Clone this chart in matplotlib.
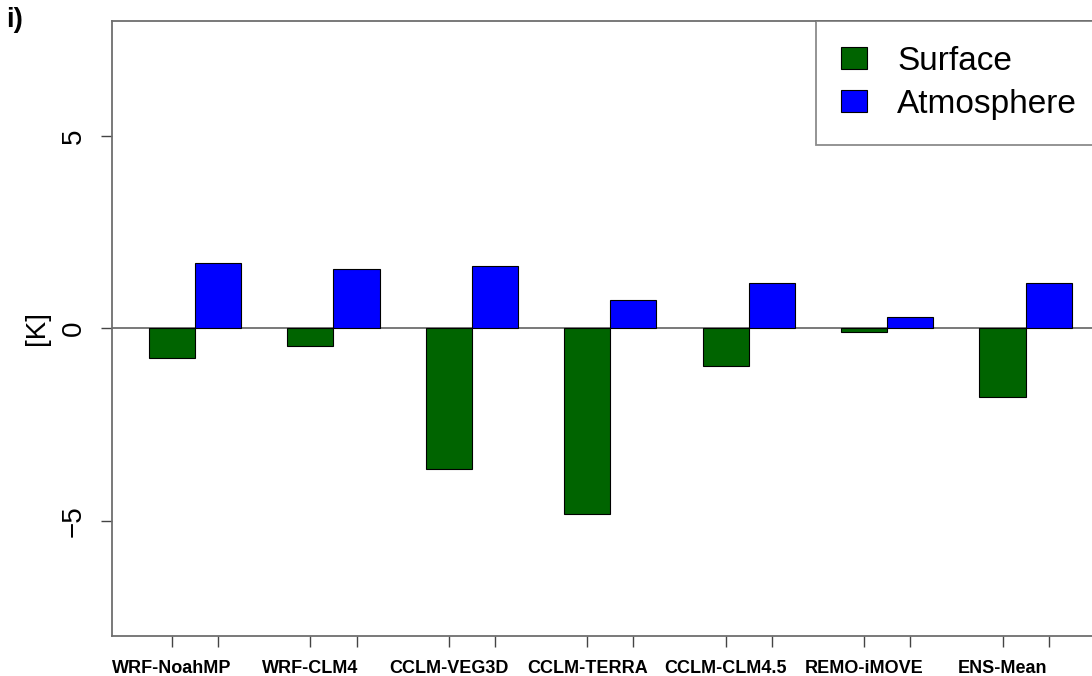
import numpy as np
import matplotlib
matplotlib.use("Agg")
import matplotlib.pyplot as plt
from matplotlib.patches import Patch

plt.rcParams["font.family"] = ["Liberation Sans", "DejaVu Sans"]

models = ["WRF-NoahMP", "WRF-CLM4", "CCLM-VEG3D", "CCLM-TERRA",
          "CCLM-CLM4.5", "REMO-iMOVE", "ENS-Mean"]
surface = [-0.78, -0.47, -3.67, -4.83, -0.98, -0.10, -1.79]
atmosphere = [1.70, 1.54, 1.61, 0.75, 1.17, 0.30, 1.19]

GREEN = "#006400"
BLUE = "#0000ff"
FRAME = "#6e6e6e"


def main():
    W, H = 1092, 676
    fig = plt.figure(figsize=(W / 100, H / 100), dpi=100)
    # axes box runs past the right edge of the picture, like the cropped original
    ax = fig.add_axes([112 / W, 1 - 636 / H, (1108.7 - 112) / W, (636 - 20.7) / H])

    # R barplot layout: one empty bar width before each pair
    idx = np.arange(len(models))
    x_surf = 1.5 + 3 * idx
    x_atm = 2.5 + 3 * idx
    ax.bar(x_surf, surface, width=1.0, color=GREEN, edgecolor="black", linewidth=0.8)
    ax.bar(x_atm, atmosphere, width=1.0, color=BLUE, edgecolor="black", linewidth=0.8)
    ax.axhline(0, color=FRAME, linewidth=1.3, zorder=0.5)

    ax.set_xlim(0.2, 21.8)
    ax.set_ylim(-8.0, 8.0)

    for s in ax.spines.values():
        s.set_color(FRAME)
        s.set_linewidth(1.3)

    # ticks under every bar, model names centred under the surface bar
    ax.set_xticks(x_atm)
    ax.set_xticklabels([])
    ax.set_xticks(x_surf, minor=True)
    ax.set_xticklabels(models, minor=True, fontsize=13, fontweight="bold")
    ax.tick_params(axis="x", which="both", direction="out", length=8,
                   width=1.0, color="#444444", pad=9)

    ax.set_yticks([-5, 0, 5])
    ax.set_yticklabels(["\u22125", "0", "5"], rotation=90, va="center", fontsize=20)
    ax.tick_params(axis="y", direction="out", length=8, width=1.0,
                   color="#444444", pad=10)
    ax.set_ylabel("[K]", fontsize=20, labelpad=8)

    handles = [Patch(facecolor=GREEN, edgecolor="black", linewidth=0.8),
               Patch(facecolor=BLUE, edgecolor="black", linewidth=0.8)]
    leg = ax.legend(handles, ["Surface", "Atmosphere"], loc="upper left",
                    bbox_to_anchor=(815.7 / W, 1 - 20.7 / H),
                    bbox_transform=fig.transFigure, borderaxespad=0,
                    fontsize=24, frameon=True, fancybox=False,
                    handlelength=0.8, handleheight=0.65, handletextpad=0.9,
                    labelspacing=0.36, borderpad=0.75)
    leg.get_frame().set_edgecolor(FRAME)
    leg.get_frame().set_linewidth(1.3)

    # panel letter in the top-left corner
    fig.text(6 / W, 1 - 27 / H, "i)", fontsize=20, fontweight="bold",
             va="baseline", ha="left")

    fig.savefig("out.png", dpi=100)
    plt.close(fig)


if __name__ == "__main__":
    main()
